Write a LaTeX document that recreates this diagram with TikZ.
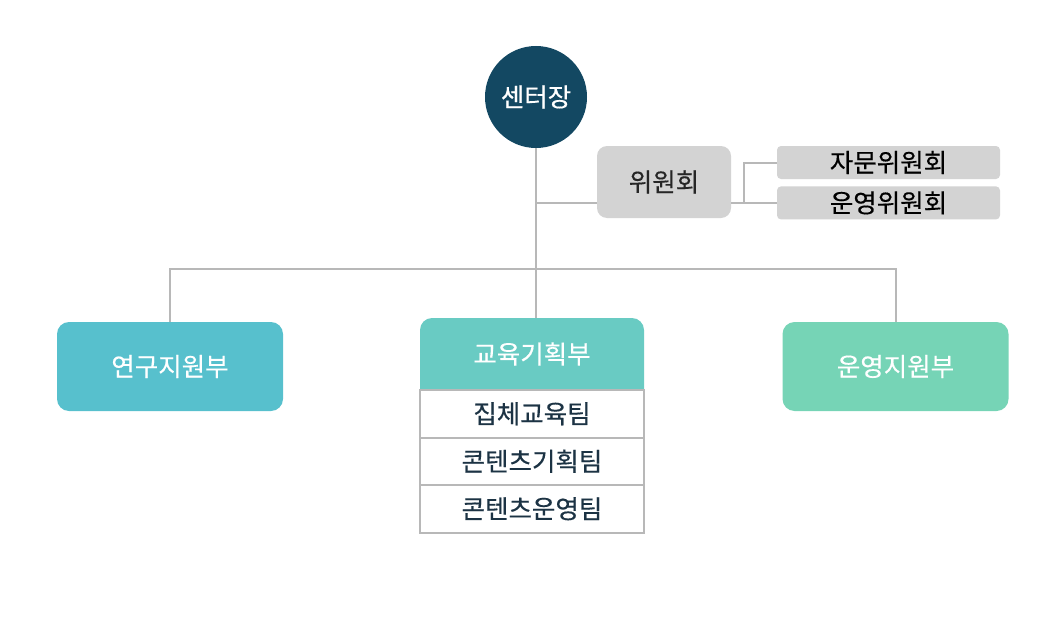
\documentclass[tikz,border=0pt]{standalone}
\usepackage{fontspec}
\setmainfont{Noto Sans CJK KR}
\newfontfamily\orgface{Noto Sans CJK KR}[FakeBold=0.4]
\usepackage{xcolor}
\usepackage{tikz}
\usetikzlibrary{positioning, backgrounds}
\definecolor{chiefblue}{HTML}{134862}
\definecolor{boxgray}{HTML}{D3D3D3}
\definecolor{linegray}{HTML}{B8B8B8}
\definecolor{researchblue}{HTML}{57C0CD}
\definecolor{eduteal}{HTML}{69CBC3}
\definecolor{opsgreen}{HTML}{76D4B6}
\definecolor{teamtext}{HTML}{1C3344}
\newcommand{\orgfont}{\orgface\fontsize{25.5}{26}\selectfont}
\tikzstyle{chief} = [circle, minimum size=102pt, inner sep=0pt, fill=chiefblue, text=white, font=\orgfont]
\tikzstyle{committee} = [rectangle, rounded corners=10pt, minimum width=134pt, minimum height=72pt, inner sep=0pt, fill=boxgray, text=black!85, font=\orgfont]
\tikzstyle{subcommittee} = [rectangle, rounded corners=4pt, minimum width=223pt, minimum height=33pt, inner sep=0pt, fill=boxgray, text=black, font=\orgfont]
\tikzstyle{dept} = [rectangle, rounded corners=12pt, minimum width=226pt, minimum height=89pt, inner sep=0pt, text=white, font=\orgfont]
\tikzstyle{depthead} = [rectangle, minimum width=224pt, minimum height=72pt, inner sep=0pt, outer sep=0pt, text=white, font=\orgfont]
\tikzstyle{team} = [rectangle, minimum width=224pt, minimum height=47.5pt, inner sep=0pt, outer sep=0pt, draw=linegray, line width=2pt, fill=white, text=teamtext, font=\orgfont]
\tikzstyle{link} = [line width=2pt, draw=linegray]

\begin{document}
\begin{tikzpicture}[x=1pt, y=-1pt, node distance=100pt]
    \useasboundingbox (0,0) rectangle (1063,618);
    \node (chief) [chief] at (536,97) {센터장};
    \node (edu) [depthead, below of=chief, xshift=-4pt, yshift=-157pt] {교육기획부};
    \node (research) [dept, fill=researchblue, left of=edu, xshift=-262pt, yshift=-12.5pt] {연구지원부};
    \node (ops) [dept, fill=opsgreen, right of=edu, xshift=263.5pt, yshift=-12.5pt] {운영지원부};
    \node (committee) [committee, right of=chief, xshift=28pt, yshift=-85pt] {위원회};
    \node (advisory) [subcommittee, right of=committee, xshift=124.5pt, yshift=19.5pt] {자문위원회};
    \node (opcomm) [subcommittee, below=7pt of advisory] {운영위원회};
    \node (team1) [team, below=0pt of edu] {집체교육팀};
    \node (team2) [team, below=0pt of team1] {콘텐츠기획팀};
    \node (team3) [team, below=0pt of team2] {콘텐츠운영팀};
    \begin{scope}[on background layer]
        \fill [eduteal] (edu.south west) -- ([yshift=-12pt]edu.north west) arc [start angle=180, end angle=90, radius=12pt]
            -- ([xshift=-12pt]edu.north east) arc [start angle=90, end angle=0, radius=12pt] -- (edu.south east) -- cycle;
    \end{scope}
    \coordinate (bus) at (536,269);
    \coordinate (fork) at (744,203);
    \draw [link] (chief) -- (chief |- edu.north);
    \draw [link] (research.north) |- (bus) -| (ops.north);
    \draw [link] (chief |- opcomm) -- (committee.west |- opcomm);
    \draw [link] (committee.east |- opcomm) -- (opcomm.west);
    \draw [link] (advisory.west) -| (fork);
\end{tikzpicture}
\end{document}
